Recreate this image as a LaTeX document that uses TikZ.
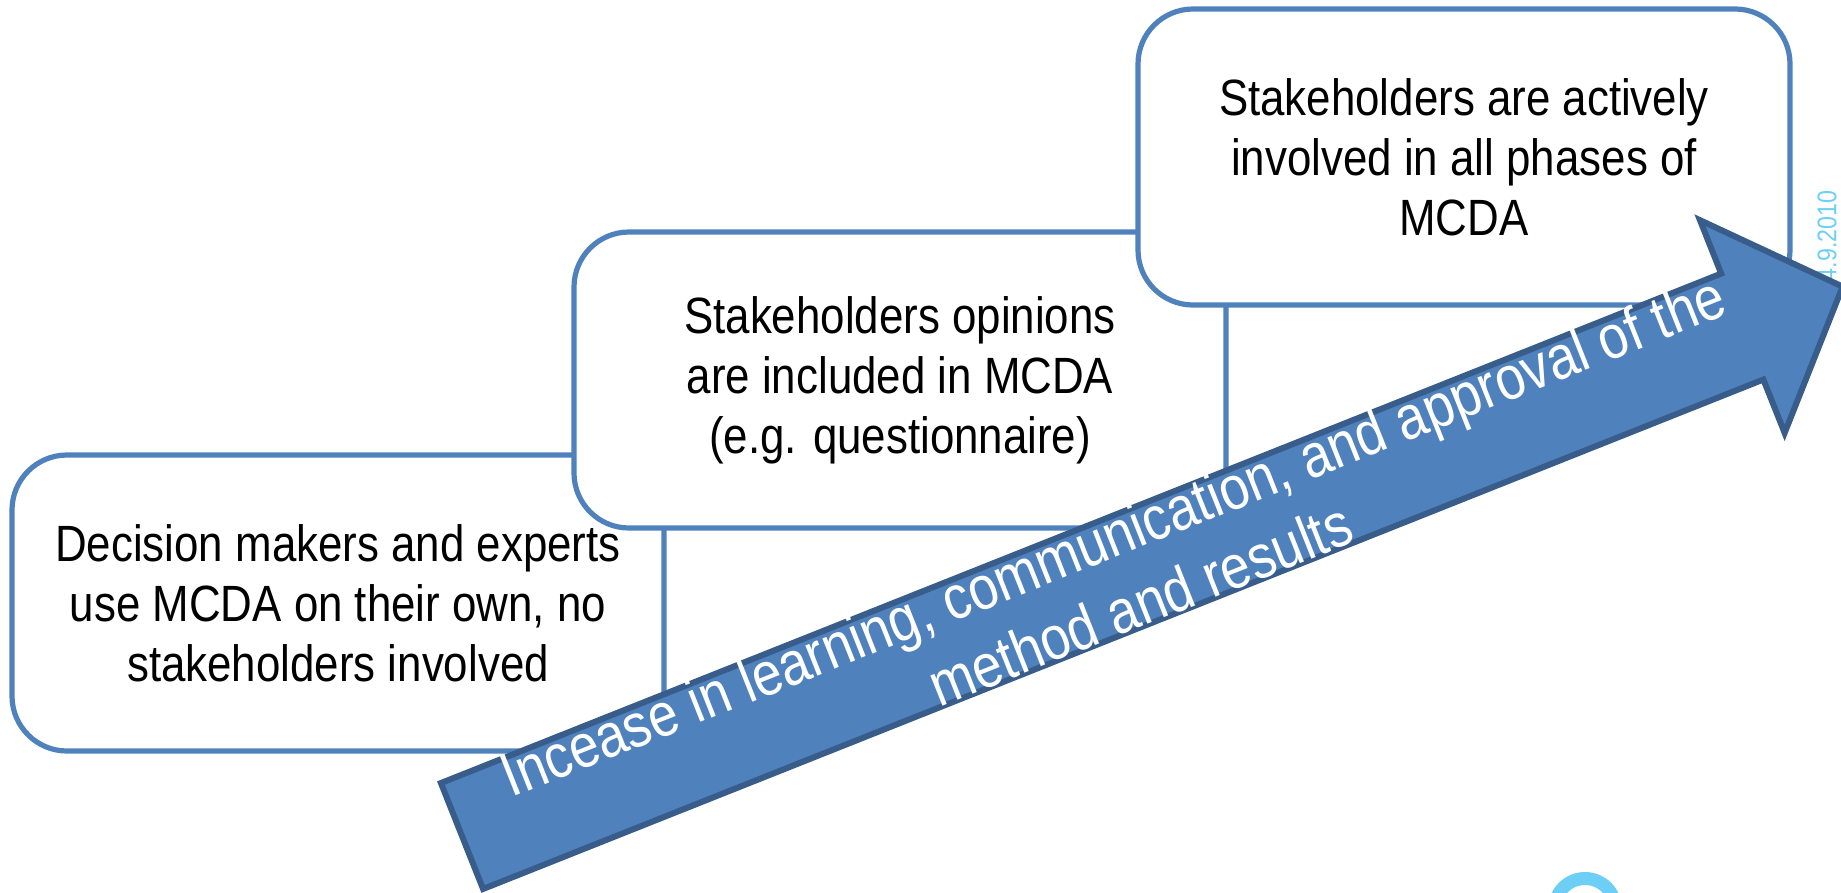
\documentclass[tikz,border=0pt]{standalone}
\usepackage{fontspec}
\setmainfont{Liberation Sans}[FakeStretch=0.86]
\definecolor{boxblue}{HTML}{4F81BD}
\definecolor{arrowedge}{HTML}{385D8A}
\definecolor{wmblue}{HTML}{6DCFF6}
\begin{document}
\begin{tikzpicture}[x=1pt,y=-1pt,
  stage/.style={draw=boxblue, line width=5.2pt, fill=white, rounded corners=55pt,
    minimum width=652pt, minimum height=296pt, align=center, inner sep=0pt,
    font=\fontsize{51}{60}\selectfont},
  bigarrow/.style={draw=arrowedge, fill=boxblue, line width=6pt, line join=miter},
  arrowtext/.style={text=white, align=center, font=\fontsize{61.5}{74}\selectfont, inner sep=0pt},
  watermark/.style={text=wmblue, font=\fontsize{27}{30}\selectfont, inner sep=0pt}
]
\useasboundingbox (0,0) rectangle (1841,892);

\node[stage] (b1) at (338,603) {Decision makers and experts\\use MCDA on their own, no\\stakeholders involved};
\node[stage] (b2) at (900,380) {Stakeholders opinions\\are included in MCDA\\(e.g. questionnaire)};
\node[stage] (b3) at (1464,157) {Stakeholders are actively\\involved in all phases of\\MCDA};

\node[watermark, rotate=90] (wm) at (1827,236) {4.9.2010};

\begin{scope}[shift={(462,836)}, rotate=21.7]
  \draw[bigarrow] (0,-57) -- (1378,-57) -- (1378,-114.5) -- (1486,0) -- (1378,114.5) -- (1378,57) -- (0,57) -- cycle;
  \node[arrowtext, rotate=21.7] (lbl) at (716,-2) {Incease in learning, communication, and approval of the\\method and results};
\end{scope}

\draw[wmblue, line width=13pt] (1585,909) circle (30.5pt);
\end{tikzpicture}
\end{document}
